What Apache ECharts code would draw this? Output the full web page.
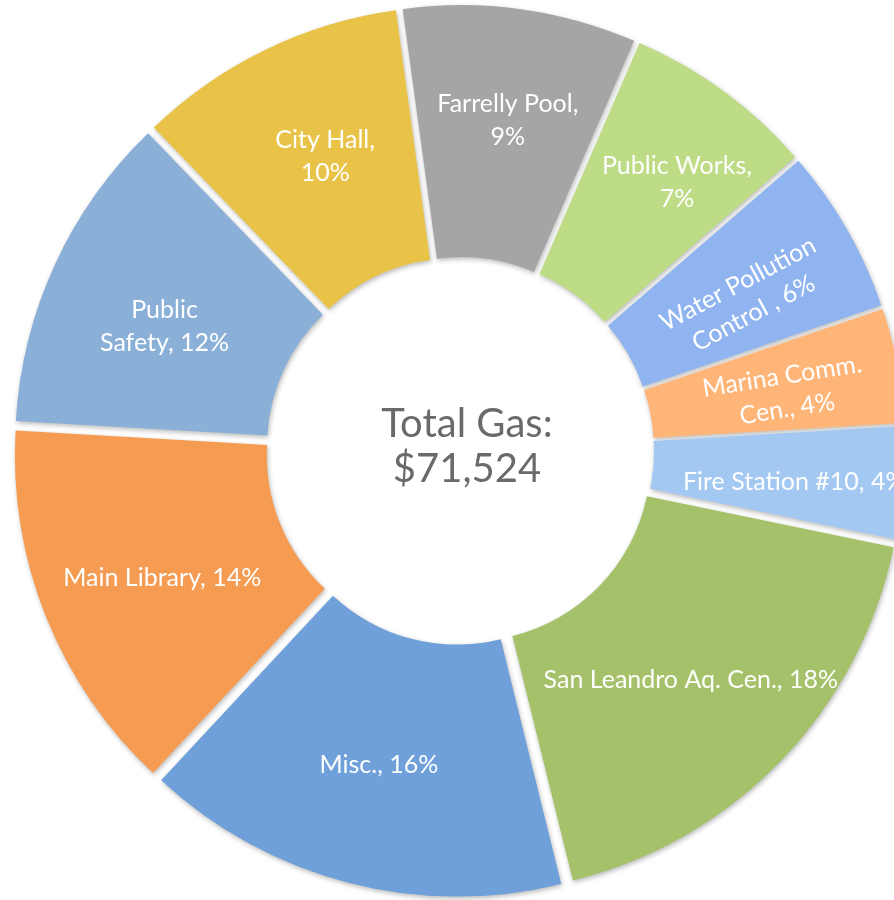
<!DOCTYPE html>
<html>
<head>
<meta charset="utf-8">
<script src="https://cdn.jsdelivr.net/npm/echarts@6/dist/echarts.min.js"></script>
<style>
  html, body { margin: 0; padding: 0; background: #ffffff; }
  #chart { width: 894px; height: 900px; }
</style>
</head>
<body>
<div id="chart"></div>
<script>
// ---- data ----
const categories = ['Farrelly Pool', 'Public Works', 'Water Pollution Control', 'Marina Comm. Cen.',
  'Fire Station #10', 'San Leandro Aq. Cen.', 'Misc.', 'Main Library', 'Public Safety', 'City Hall'];
const values = [6200, 5100, 4400, 3050, 3000, 12800, 11300, 10000, 8500, 7174];
const labelPrefixes = ['Farrelly Pool,\n', 'Public Works,\n', 'Water Pollution\nControl , ', 'Marina Comm.\nCen., ',
  'Fire Station #10, ', 'San Leandro Aq. Cen., ', 'Misc., ', 'Main Library, ', 'Public\nSafety, ', 'City Hall,\n'];
const centerTitle = 'Total Gas:';

// ---- styles ----
const colors = ['#A5A5A5', '#BEDB86', '#8FB4EF', '#FFB577', '#A3C8F2', '#A5C26B', '#6FA0DA', '#F59C52', '#8AB0D8', '#E9C347'];
const labelRotate = [0, 0, 28, 9, 0, 0, 0, 0, 0, 0];
const labelDX = [4, 26, 1, 7, 12, -2, 0, 2, -2, 6];
const labelDY = [-11, -8, 10, 5, 8, 5, 1, 7, 10, -4];

const total = values.reduce((a, b) => a + b, 0);
const chart = echarts.init(document.getElementById('chart'), null, { renderer: 'canvas' });

const data = categories.map((name, i) => ({
  name: name,
  value: values[i],
  selected: true,
  itemStyle: { color: colors[i] },
  label: { rotate: labelRotate[i] }
}));

chart.setOption({
  animation: false,
  series: [{
    type: 'pie',
    center: [460, 451],
    radius: [182, 434],
    startAngle: 97.8,
    clockwise: true,
    selectedMode: 'multiple',
    selectedOffset: 12,
    silent: true,
    avoidLabelOverlap: false,
    itemStyle: {
      borderWidth: 0,
      shadowBlur: 5,
      shadowColor: 'rgba(0,0,0,0.28)',
      shadowOffsetX: 1,
      shadowOffsetY: 2
    },
    select: { itemStyle: { borderWidth: 0 } },
    label: {
      show: true,
      position: 'inside',
      color: '#ffffff',
      fontFamily: 'Lato',
      fontSize: 25,
      lineHeight: 33,
      align: 'center',
      formatter: function (p) {
        return labelPrefixes[p.dataIndex] + Math.round(p.percent) + '%';
      }
    },
    labelLine: { show: false },
    labelLayout: function (params) {
      return { dx: labelDX[params.dataIndex], dy: labelDY[params.dataIndex] };
    },
    data: data
  }],
  graphic: [{
    type: 'text',
    x: 467,
    y: 447,
    style: {
      text: centerTitle + '\n$' + total.toLocaleString('en-US'),
      fill: '#6A6A6A',
      font: '40px Lato',
      lineHeight: 45,
      align: 'center',
      verticalAlign: 'middle'
    }
  }]
});
</script>
</body>
</html>
